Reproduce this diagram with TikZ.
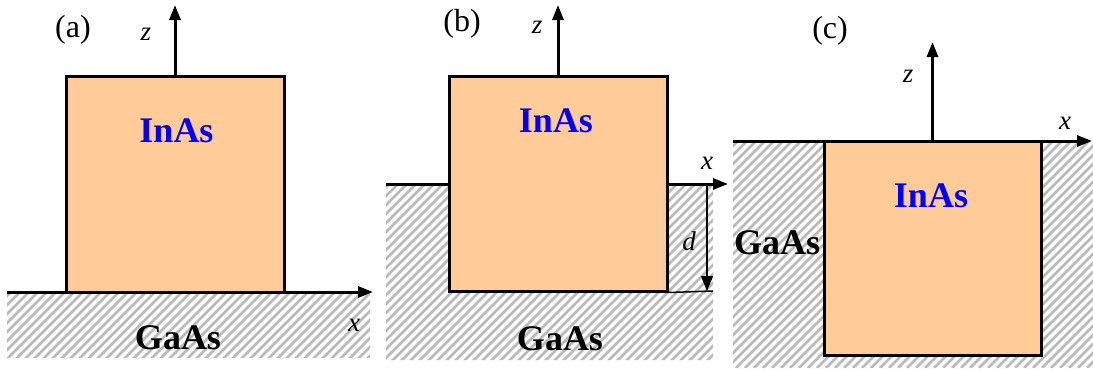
\documentclass[tikz,border=0pt]{standalone}
\usepackage{fontspec}
\setmainfont{Liberation Serif}
\newfontfamily\tnrfont{Liberation Serif}
\usetikzlibrary{arrows.meta}
\definecolor{inas}{RGB}{255,204,153}
\begin{document}
\begin{tikzpicture}[x=1pt,y=-1pt,
  caja/.style={draw,line width=3pt,fill=inas,inner sep=0pt},
  rayado/.style={line width=2.7pt,black!27},
  eje/.style={line width=3pt,-{Triangle[length=15pt,width=11pt]}},
  mat/.style={font=\tnrfont\fontsize{36}{40}\selectfont\bfseries,anchor=base},
  etq/.style={font=\tnrfont\fontsize{32}{36}\selectfont,anchor=base},
  var/.style={font=\tnrfont\fontsize{27}{30}\selectfont\itshape,anchor=base}]
\useasboundingbox (0,0) rectangle (1093,368);
% sustratos
\begin{scope}
\clip (7,293) rectangle (370,358) (386,185) rectangle (713,360) (733,141) rectangle (1093,368);
\foreach \i in {-380,-371,...,1100} { \draw[rayado] (\i,368) -- ++(368,-368); }
\end{scope}
% islas de InAs
\node[caja,minimum width=218pt,minimum height=216pt] (cajaa) at (175,184) {};
\node[caja,minimum width=218pt,minimum height=215pt] (cajab) at (558,183.5) {};
\node[caja,minimum width=217pt,minimum height=214pt] (cajac) at (932.5,248) {};
% puntos de los ejes
\coordinate (xa0) at (7,292); \coordinate (xa1) at (373,292); \coordinate (za) at (175,5);
\coordinate (sb0) at (386,184); \coordinate (xb) at (728,184); \coordinate (zb) at (558,5);
\coordinate (db0) at (707,184); \coordinate (db1) at (707,291); \coordinate (fb) at (713,291);
\coordinate (sc0) at (733,141); \coordinate (xc) at (1092,141); \coordinate (zc) at (932.5,42);
% (a)
\draw[eje] (xa0) -- (xa1);
\draw[eje] (cajaa.north) -- (za);
% (b)
\draw[line width=3pt] (sb0) -- (sb0 -| cajab.west);
\draw[eje] (sb0 -| cajab.east) -- (xb);
\draw[line width=1.5pt] (cajab.south east) -- (fb);
\draw[line width=1.5pt,-{Triangle[length=15pt,width=12pt]}] (db0) -- (db1);
\draw[eje] (cajab.north) -- (zb);
% (c)
\draw[eje] (sc0) -- (xc);
\draw[eje] (cajac.north) -- (zc);
% textos
\node[etq] (la) at (73,37) {(a)};
\node[etq] (lb) at (462,31) {(b)};
\node[etq] (lc) at (830,38) {(c)};
\node[var] (tza) at (146,40) {z};
\node[var] (tzb) at (537,33) {z};
\node[var] (tzc) at (908,82) {z};
\node[var] (txa) at (354,331) {x};
\node[var] (txb) at (707,169) {x};
\node[var] (txc) at (1065,129) {x};
\node[var] (td) at (689,250) {d};
\node[mat,text=blue] (ia) at (176.5,142) {InAs};
\node[mat,text=blue] (ib) at (556,132) {InAs};
\node[mat,text=blue] (ic) at (931,207) {InAs};
\node[mat] (ga) at (178,349) {GaAs};
\node[mat] (gb) at (560,350) {GaAs};
\node[mat] (gc) at (777,254) {GaAs};
\end{tikzpicture}
\end{document}
